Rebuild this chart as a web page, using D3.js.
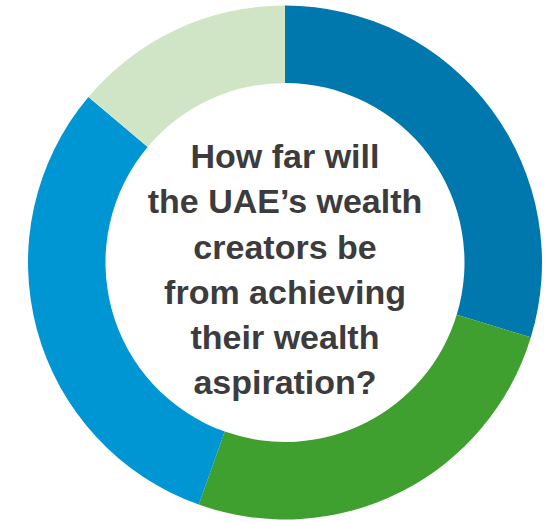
<!DOCTYPE html>
<html>
<head>
<meta charset="utf-8">
<script src="https://cdn.jsdelivr.net/npm/d3@7"></script>
<style>
  html, body { margin: 0; padding: 0; background: #ffffff; }
  svg { display: block; }
</style>
</head>
<body>
<svg id="chart" width="556" height="522"></svg>
<script>
// Data
const categories = ["Segment A", "Segment B", "Segment C", "Segment D"];
const values = [30, 26, 31, 14];
const colors = ["#0077ad", "#3f9f2f", "#0095d3", "#d0e4c6"];
const centerLines = [
  "How far will",
  "the UAE\u2019s wealth",
  "creators be",
  "from achieving",
  "their wealth",
  "aspiration?"
];

const width = 556, height = 522;
const cx = 285, cy = 262.5;
const outerR = 257, innerR = 179.5;

const svg = d3.select("#chart");
const g = svg.append("g").attr("transform", `translate(${cx},${cy})`);

const pie = d3.pie().sort(null).value(d => d.value).startAngle(0).endAngle(2 * Math.PI);
const arc = d3.arc().innerRadius(innerR).outerRadius(outerR);

const color = d3.scaleOrdinal().domain(categories).range(colors);

const data = categories.map((c, i) => ({ category: c, value: values[i] }));

g.selectAll("path.slice")
  .data(pie(data))
  .join("path")
  .attr("class", "slice")
  .attr("d", arc)
  .attr("fill", d => color(d.data.category));

const lineH = 45.2;
const firstBaseline = -94.4;
g.append("text")
  .attr("text-anchor", "middle")
  .attr("font-family", "'Liberation Sans', Arial, Helvetica, sans-serif")
  .attr("font-weight", "bold")
  .attr("font-size", 34)
  .attr("letter-spacing", "0px")
  .attr("fill", "#3c3c3e")
  .selectAll("tspan")
  .data(centerLines)
  .join("tspan")
  .attr("x", 0)
  .attr("y", (d, i) => firstBaseline + i * lineH)
  .text(d => d);
</script>
</body>
</html>
